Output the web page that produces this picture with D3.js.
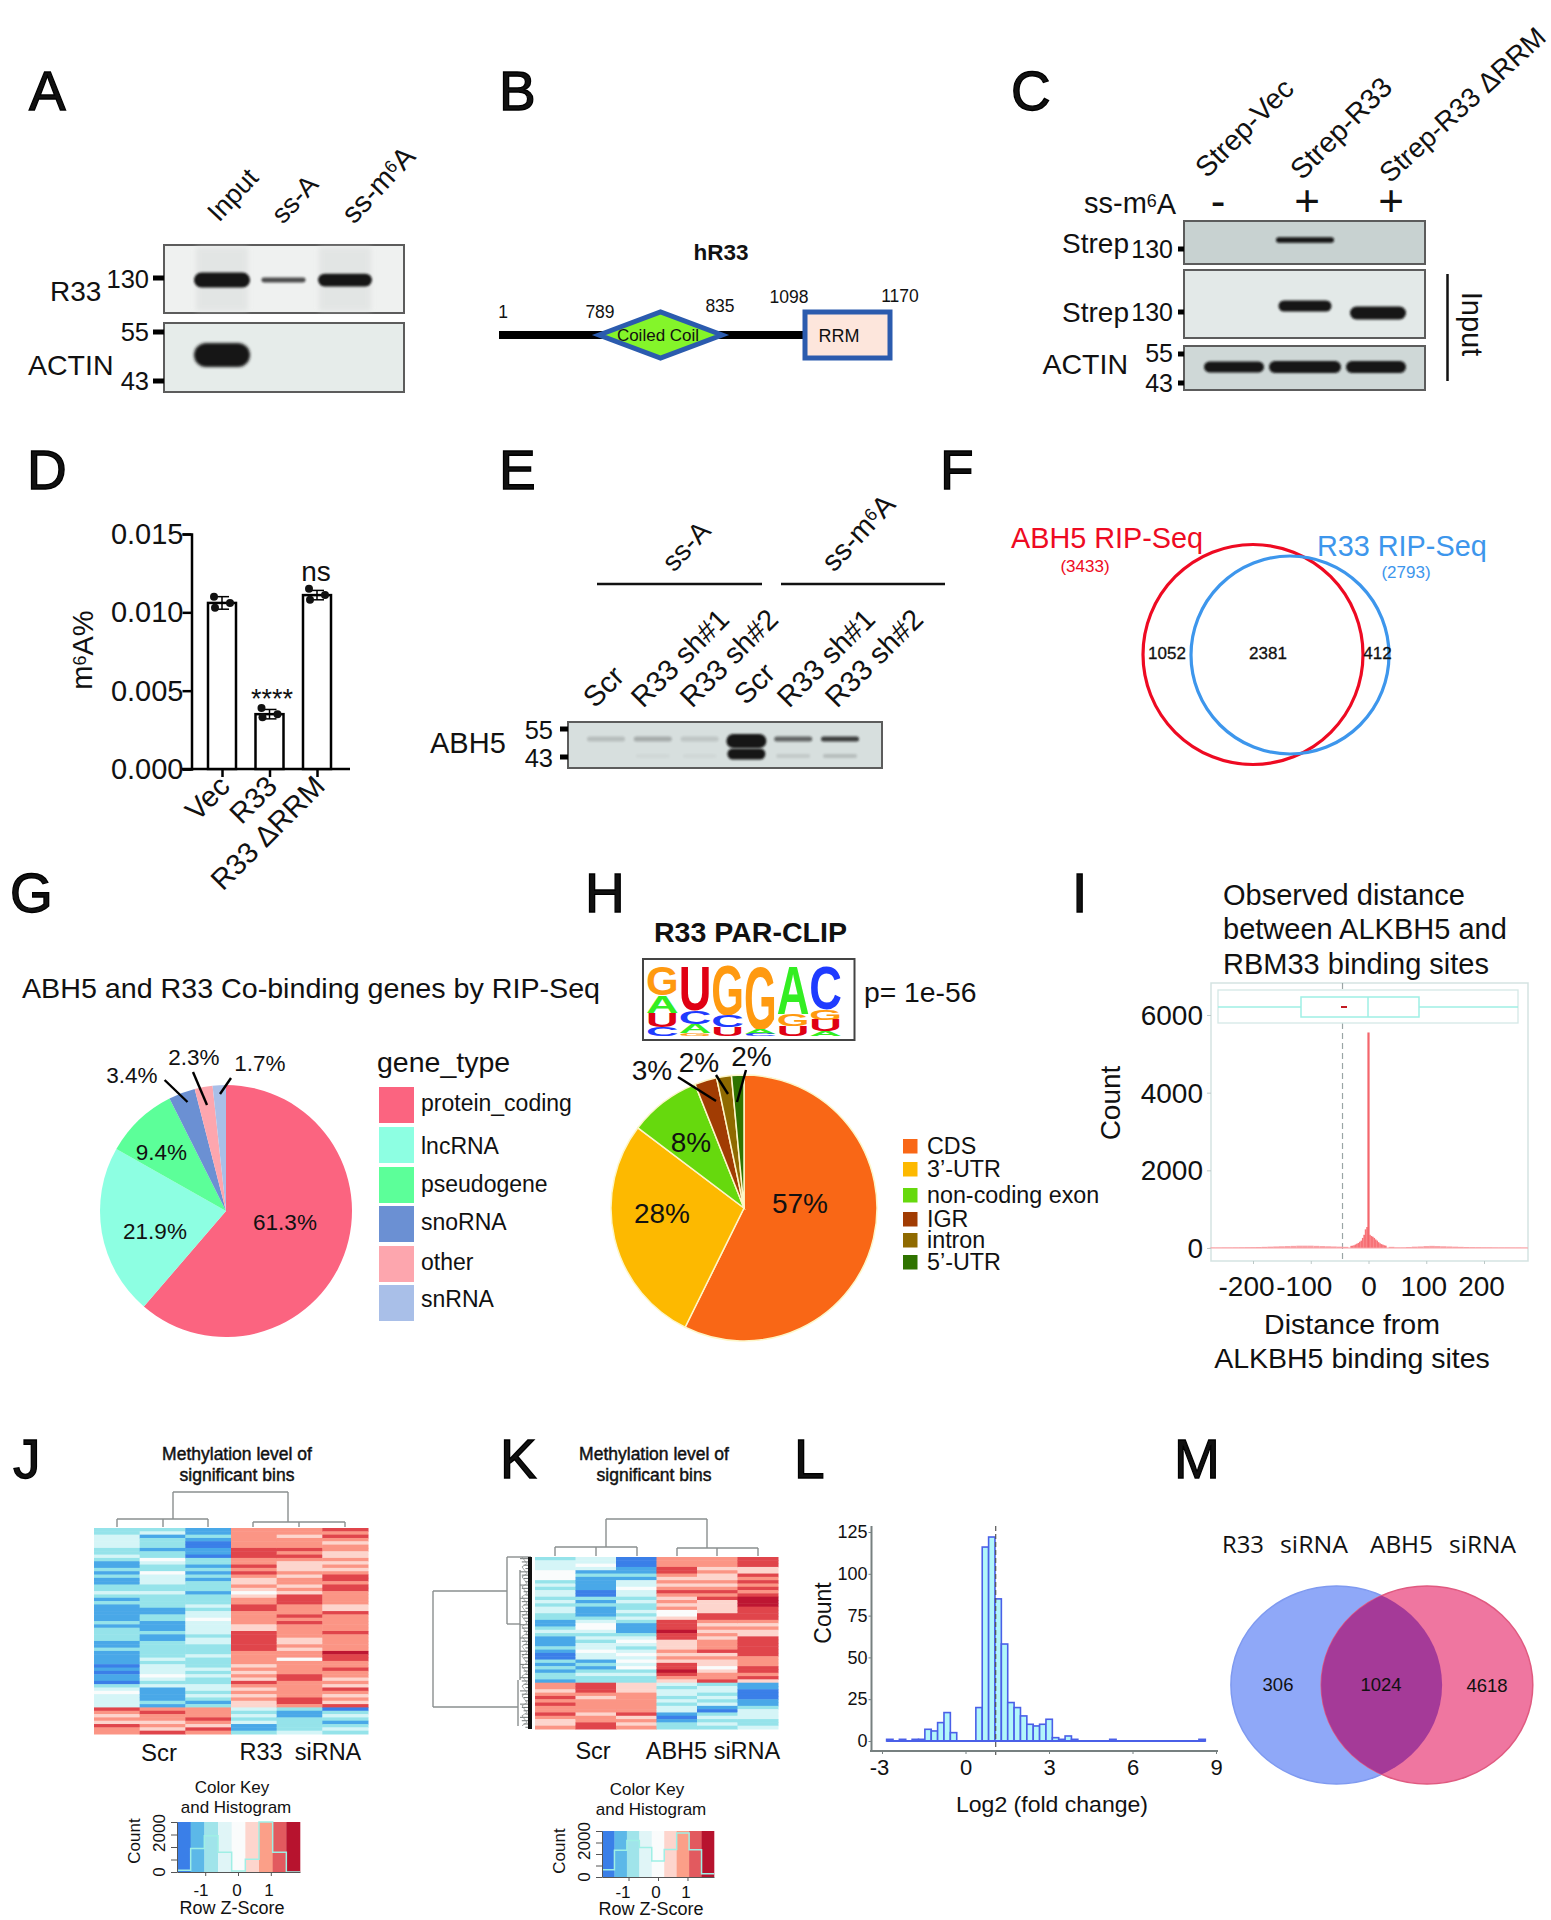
<!DOCTYPE html>
<html><head><meta charset="utf-8">
<script src="https://cdn.jsdelivr.net/npm/d3@7/dist/d3.min.js"></script>
<style>html,body{margin:0;background:#fff}svg{display:block}text{font-family:"Liberation Sans",Arial,sans-serif;fill:#111}</style>
</head><body><div id="c"></div>
<script>
// ---------- DATA ----------
const panelLetters=["A","B","C","D","E","F","G","H","I","J","K","L","M"];
const lanesA=["Input","ss-A","ss-m6A"];
const bandsAR33=[1,.22,.85], bandsAActin=[1,0,0];
const lanesC=["Strep-Vec","Strep-R33","Strep-R33 ΔRRM"];
const signC=["-","+","+"];
const bandsC1=[0,.42,0], bandsC2=[0,.85,1], bandsC3=[.9,1,1];
const domainLabels=["1","789","835","1098","1170"];
const barCats=["Vec","R33","R33 ΔRRM"];
const barVals=[0.0106,0.0035,0.0111];
const barErr=[0.0004,0.0003,0.0003];
const barPts=[[0.0110,0.0103,0.0106],[0.0039,0.0033,0.0035],[0.0115,0.0108,0.0111]];
const yTicksD=[0,0.005,0.010,0.015];
const lanesE=["Scr","R33 sh#1","R33 sh#2","Scr","R33 sh#1","R33 sh#2"];
const bandsEUpper=[.16,.25,.12,1,.6,.8], bandsELower=[0,.03,.03,1,.1,.16];
const vennF=[3433,2793], vennFCounts=[1052,2381,412];
const geneTypes=["protein_coding","lncRNA","pseudogene","snoRNA","other","snRNA"];
const genePct=[61.3,21.9,9.4,3.4,2.3,1.7];
const geneColors=["#fb6480","#8dffe2","#5cff99","#6b90d3","#fda6ae","#a9bfe8"];
const clipTypes=["CDS","3’-UTR","non-coding exon","IGR","intron","5’-UTR"];
const clipPct=[57,28,8,3,2,2];
const clipShare=[57.3,28,8.7,2.7,1.8,1.5];
const clipColors=["#f96716","#fdb900","#66d90d","#a13c03","#8f6a00","#2f7300"];
const logoLetters=[["G","A","U","C"],["U","C","A","G"],["G","C","U"],["G","A","C"],["A","G","U"],["C","G","U","A"]];
const logoHeights=[[42,25,20,13],[64,19,13,4],[71,17,12],[90,7,3],[69,17,14],[62,15,16,7]];
const distTailX=[-270,-260,-250,-240,-230,-220,-210,-200,-190,-180,-170,-160,-150,-140,-130,-120,-110,-100,-90,-80,-70,-60,-50,-40,40,50,60,70,80,90,100,110,120,130,140,150,160,170,180,190,200,210,220,230,240,250,260,270];
const distTailY=[12,12,14,14,16,18,20,22,25,30,35,40,45,50,55,60,60,60,55,50,45,40,35,30,30,15,15,25,35,40,50,55,50,45,40,35,30,25,22,20,18,18,15,14,14,12,12,10];
const distCoreX=[-30,-27.5,-25,-22.5,-20,-17.5,-15,-12.5,-10,-7.5,-5,-2.5,0,2.5,5,7.5,10,12.5,15,17.5,20,22.5,25,27.5,30];
const distCoreY=[55,60,70,90,110,130,160,190,260,340,480,540,5550,340,310,290,260,220,190,150,120,100,85,70,60];
const heatLevels=["#3a7fe8","#4aa8e8","#95e3ea","#d5f5f7","#fafcfc","#fdd5cd","#fb9585","#e0454c","#bd1830"];
const jCol1=[2,2,3,3,3,3,2,2,3,2,1,1,2,1,2,1,1,2,2,3,2,1,2,1,1,1,1,1,2,1,2,2,2,2,1,1,2,1,1,1,1,0,1,0,1,1,0,2,3,4,3,3,3,3,7,6,5,6,5,7,6,6];
const jCol2=[2,3,1,2,2,2,1,2,2,4,3,2,2,4,3,3,3,2,2,3,2,2,2,2,1,1,2,2,1,1,1,2,1,1,2,2,2,2,2,3,2,3,3,3,4,3,2,3,1,1,1,1,2,1,6,7,6,6,5,6,5,7];
const jCol3=[1,1,2,1,0,0,1,1,0,2,2,1,2,1,2,1,2,2,2,1,2,2,2,3,2,3,3,4,3,3,3,3,2,3,3,2,2,2,3,2,2,2,3,2,3,2,2,3,3,2,3,2,1,2,6,6,6,7,6,5,7,6];
const jCol4=[6,6,6,6,6,6,7,7,7,6,6,7,6,7,6,5,5,6,5,4,5,6,6,7,7,6,6,6,6,5,5,7,7,7,7,7,7,6,6,6,6,5,6,5,6,5,7,6,5,6,5,6,5,5,3,2,3,2,3,1,1,2];
const jCol5=[6,6,5,6,6,6,7,6,7,6,5,5,5,6,5,6,6,5,6,5,7,7,7,6,6,6,7,6,7,6,6,6,6,5,5,6,5,6,6,4,6,6,6,6,7,7,6,6,6,6,6,7,7,6,2,1,1,2,2,2,2,3];
const jCol6=[7,6,7,6,5,6,6,5,5,6,5,6,5,6,7,7,6,7,7,6,6,6,6,5,5,7,6,6,6,6,6,7,6,6,6,6,6,8,7,7,6,6,7,6,6,5,6,5,7,6,5,6,5,7,0,2,3,2,1,2,3,2];
const kCol1=[2,3,3,3,4,4,4,2,3,2,3,3,2,3,2,3,3,2,2,1,1,2,3,2,1,1,1,2,1,0,0,2,1,2,1,2,2,1,6,6,5,6,7,6,7,6,6,7,6,5,5,6];
const kCol2=[3,3,4,3,1,2,1,1,1,1,0,0,2,1,2,1,1,1,2,3,4,4,3,2,3,2,3,3,4,3,3,1,2,1,2,3,2,2,7,7,7,6,5,6,6,6,6,5,6,6,7,7];
const kCol3=[0,0,0,1,1,2,1,3,3,4,3,3,2,3,2,2,3,2,3,2,1,1,1,2,3,4,3,2,3,4,3,4,3,4,2,3,2,2,5,5,5,6,6,6,6,6,6,7,5,6,5,6];
const kCol4=[6,6,6,7,7,6,5,6,5,6,7,6,5,6,5,6,4,4,5,7,7,7,8,7,7,5,5,5,6,5,6,5,7,7,8,7,6,5,3,2,3,3,2,3,2,3,3,1,0,1,2,2];
const kCol5=[6,6,6,5,6,5,5,6,5,6,7,6,7,5,5,5,5,7,7,6,5,6,5,6,5,6,6,6,7,5,6,5,5,4,5,6,6,7,2,3,3,2,3,2,3,1,0,2,3,2,3,2];
const kCol6=[7,7,7,5,5,7,6,7,6,7,6,7,8,8,8,7,7,7,7,6,5,6,5,5,7,7,7,7,7,7,6,6,6,7,7,6,7,5,1,1,0,0,0,1,1,2,3,3,3,2,2,3];
const keyColors=["#3a7fe8","#5cb8e8","#a0e4ea","#e0f5f7","#fafcfc","#fdd5cd","#fb9f88","#e25a5f","#b7132e"];
const keyHistJ=[70,940,1450,790,40,510,2000,790,0];
const keyHistK=[320,1160,1590,1280,700,1200,1910,1190,140];
const foldBinStart=-2.834, foldBinWidth=0.229;
const foldCounts=[1,0,1,0,1,1,7,6,11,17,5,0,0,0,20,116,122,85,58,23,20,15,10,9,10,13,2,1,3,1,0,0,0,0,0,1,0,0,0,0,0,0,0,0,0,0,0,0,0,1];
const foldMedian=1.085;
const vennMCounts=[306,1024,4618];

// ---------- HELPERS ----------
const W=1551,H=1920;
const svg=d3.select("#c").append("svg").attr("width",W).attr("height",H).attr("viewBox",`0 0 ${W} ${H}`);
const defs=svg.append("defs");
[[.6,"b06"],[1,"b10"],[1.6,"b16"],[2.4,"b24"]].forEach(([s,id])=>defs.append("filter").attr("id",id).attr("x","-30%").attr("y","-80%").attr("width","160%").attr("height","260%").append("feGaussianBlur").attr("stdDeviation",s));
defs.append("filter").attr("id","heatSoft").attr("x","-1%").attr("y","-1%").attr("width","102%").attr("height","102%").append("feGaussianBlur").attr("stdDeviation",.55);
function T(x,y,s,o={}){
  const t=svg.append("text").text(s).attr("font-size",o.size||24).attr("text-anchor",o.anchor||"start");
  if(o.rot!==undefined) t.attr("transform",`translate(${x},${y}) rotate(${o.rot})`); else t.attr("x",x).attr("y",y);
  if(!o.raw) t.attr("dy",".36em");
  if(o.weight) t.attr("font-weight",o.weight);
  if(o.fill) t.style("fill",o.fill);
  if(o.len) t.attr("textLength",o.len).attr("lengthAdjust","spacingAndGlyphs");
  if(o.family) t.style("font-family",o.family);
  return t;
}
function m6A(t,pre,post){ t.text(null); t.append("tspan").text(pre);
  t.append("tspan").text("6").attr("dy","-.38em").attr("font-size",".62em");
  t.append("tspan").text(post).attr("dy",".24em");}
function L(x1,y1,x2,y2,c="#000",w=2,dash){const l=svg.append("line").attr("x1",x1).attr("y1",y1).attr("x2",x2).attr("y2",y2).attr("stroke",c).attr("stroke-width",w); if(dash)l.attr("stroke-dasharray",dash); return l;}
function blot(x0,y0,x1,y1,fill){svg.append("rect").attr("x",x0).attr("y",y0).attr("width",x1-x0).attr("height",y1-y0).attr("fill",fill).attr("stroke","#5c5c5c").attr("stroke-width",2);}
function band(cx,cy,w,h,op=1,f="b10"){svg.append("rect").attr("x",cx-w/2).attr("y",cy-h/2).attr("width",w).attr("height",h).attr("rx",h/2).attr("fill","#141414").attr("opacity",op).attr("filter",`url(#${f})`);}
function tickBox(x0,x1,y){svg.append("rect").attr("x",x0).attr("y",y-2.5).attr("width",x1-x0).attr("height",5).attr("fill","#000");}

// panel letters
const letterPos=[[29,90],[499,90],[1011,90],[27,469],[499,469],[940,469],[10,892],[585,892],[1072,892],[13,1458],[500,1458],[794,1458],[1174,1458]];
panelLetters.forEach((l,i)=>T(letterPos[i][0],letterPos[i][1],l,{size:55}).style("stroke","#000").style("stroke-width",1.3));

// ---------- A ----------
blot(164,245,404,313,"#eff1f0"); blot(164,323,404,392,"#e6ecea");
const xA=d3.scaleLinear().domain([0,2]).range([222,345]);
[0,2].forEach(i=>svg.append("rect").attr("x",xA(i)-26).attr("y",247).attr("width",52).attr("height",64).attr("fill","#d9dcdb").attr("opacity",.55).attr("filter","url(#b24)"));
bandsAR33.forEach((v,i)=>band(xA(i),280,56*(.73+.27*v),15*Math.max(v,.33),v<.3?.75:1,"b10"));
bandsAActin.forEach((v,i)=>{if(v>0)band(xA(i),355,56,24,1,"b16");});
[278,332,381].forEach(y=>tickBox(153,164,y));
T(149,279,"130",{size:25.5,anchor:"end"});T(149,332,"55",{size:25.5,anchor:"end"});T(149,381,"43",{size:25.5,anchor:"end"});
T(50,291,"R33",{size:28});T(28,365,"ACTIN",{size:28.5});
T(219,223,lanesA[0],{size:27,rot:-47,raw:1});T(283,225,lanesA[1],{size:27,rot:-47,raw:1});
m6A(T(354,225,"",{size:29,rot:-47,raw:1}),"ss-m","A");

// ---------- B ----------
T(721,252,"hR33",{size:22.5,anchor:"middle",weight:"bold"});
svg.append("rect").attr("x",499).attr("y",331).attr("width",306).attr("height",8).attr("fill","#000");
svg.append("path").attr("d",d3.line()([[599,335],[660.5,312],[722,335],[660.5,358]])+"Z").attr("fill","#84f52a").attr("stroke","#2b5bae").attr("stroke-width",5);
T(658,335,"Coiled Coil",{size:17,anchor:"middle"});
svg.append("rect").attr("x",805).attr("y",312).attr("width",85).attr("height",46).attr("fill","#fde6dc").attr("stroke","#2b5bae").attr("stroke-width",5);
T(839,336,"RRM",{size:18,anchor:"middle"});
[[503,312],[600,312],[720,306],[789,297],[900,296]].forEach((p,i)=>T(p[0],p[1],domainLabels[i],{size:17.5,anchor:"middle"}));

// ---------- C ----------
blot(1184,221,1425,264,"#c8d2d1"); blot(1184,270,1425,338,"#e3e9e8"); blot(1184,346,1425,390,"#cfd8d7");
const xC=d3.scaleLinear().domain([0,2]).range([1234,1376]);
bandsC1.forEach((v,i)=>{if(v)band(xC(i),240,58,13*v,1,"b10");});
bandsC2.forEach((v,i)=>{if(v)band(i==1?1305:xC(i)+2,i==1?306:313,i==1?53:56,13*v,1,"b10");});
bandsC3.forEach((v,i)=>band(xC(i),367,i==1?72:60,11*v+1,1,"b10"));
[249,312,354,383].forEach(y=>tickBox(1178,1184,y));
[[249,"130"],[312,"130"],[353,"55"],[383,"43"]].forEach(d=>T(1173,d[0],d[1],{size:25,anchor:"end"}));
T(1129,243,"Strep",{size:28,anchor:"end"});T(1129,312,"Strep",{size:28,anchor:"end"});T(1128,364,"ACTIN",{size:28.5,anchor:"end"});
m6A(T(1084,203,"",{size:29}),"ss-m","A");
[1218,1307,1391].forEach((x,i)=>T(x,200,signC[i],{size:44,anchor:"middle"}));
L(1447.5,274,1447.5,381,"#111",2.5);
T(1472,324,"Input",{size:29,anchor:"middle",rot:90}).attr("dy",".36em");
T(1207,179,lanesC[0],{size:28.5,rot:-45,raw:1});T(1302,181,lanesC[1],{size:28.5,rot:-45,raw:1});T(1390,184,lanesC[2],{size:27.5,rot:-42.5,raw:1});

// ---------- D ----------
const yD=d3.scaleLinear().domain([0,0.015]).range([769,534]);
const xD=d3.scalePoint().domain(barCats).range([222,317]);
const gy=svg.append("g").attr("transform","translate(191.5,0)").call(d3.axisLeft(yD).tickValues(yTicksD).tickFormat(d3.format(".3f")).tickSize(9).tickPadding(0));
gy.selectAll("path,line").attr("stroke","#000").attr("stroke-width",2.5);
gy.selectAll("text").attr("font-size",29).attr("x",-8).attr("dy",".33em");
const gx=svg.append("g").attr("transform","translate(0,769)").call(d3.axisBottom(xD).tickSize(8).tickPadding(4).tickSizeOuter(0));
gx.select("path").attr("d","M182,0H350").attr("stroke","#000").attr("stroke-width",2.5);
gx.selectAll("line").attr("stroke","#000").attr("stroke-width",2.5);
gx.selectAll("text").attr("font-size",29).attr("text-anchor","end").attr("x",0).attr("y",0).attr("dy",0).attr("transform","translate(9,19) rotate(-45)");
barCats.forEach((c,i)=>{
  const x=xD(c);
  svg.append("rect").attr("x",x-14).attr("y",yD(barVals[i])).attr("width",28).attr("height",yD(0)-yD(barVals[i])).attr("fill","#fff").attr("stroke","#000").attr("stroke-width",2.5);
  L(x,yD(barVals[i]+barErr[i]),x,yD(barVals[i]-barErr[i]),"#000",1.5);
  L(x-7,yD(barVals[i]+barErr[i]),x+7,yD(barVals[i]+barErr[i]),"#000",1.5);
  L(x-7,yD(barVals[i]-barErr[i]),x+7,yD(barVals[i]-barErr[i]),"#000",1.5);
  barPts[i].forEach((v,j)=>svg.append("circle").attr("cx",x+[-8,-7,8][j]).attr("cy",yD(v)).attr("r",4).attr("fill","#111"));
});
T(316,571,"ns",{size:28,anchor:"middle"});
T(272,698,"****",{size:27,anchor:"middle"});
m6A(T(82,650,"",{size:29,anchor:"middle",rot:-90}),"m","A%");

// ---------- E ----------
L(597,584,762,584,"#111",2.5);L(781,584,945,584,"#111",2.5);
T(674,573,"ss-A",{size:28,rot:-47,raw:1});
m6A(T(834,573,"",{size:29,rot:-47,raw:1}),"ss-m","A");
blot(568,722,882,768,"#d7dfde");
const xE=d3.scaleLinear().domain([0,5]).range([606,840]);
bandsEUpper.forEach((v,i)=>band(xE(i),i==3?741:739,i==3?40:38,i==3?14:5,v,"b10"));
bandsELower.forEach((v,i)=>{if(v)band(xE(i),i==3?754:756,i==3?38:34,i==3?11:4,v,"b10");});
[729,757].forEach(y=>tickBox(560,568,y));
T(553,730,"55",{size:25.5,anchor:"end"});T(553,758,"43",{size:25.5,anchor:"end"});T(430,743,"ABH5",{size:29});
[[595,709],[643,709],[692,709],[746,706],[789,709],[837,709]].forEach((p,i)=>T(p[0],p[1],lanesE[i],{size:29,rot:-45,raw:1}));

// ---------- F ----------
svg.append("circle").attr("cx",1253).attr("cy",654.5).attr("r",110).attr("fill","none").attr("stroke","#ee0a22").attr("stroke-width",3.2);
svg.append("circle").attr("cx",1290).attr("cy",655).attr("r",99).attr("fill","none").attr("stroke","#3d96ec").attr("stroke-width",3.2);
T(1011,538,"ABH5 RIP-Seq",{size:28.8,fill:"#ee0a22"});
T(1085,566,`(${vennF[0]})`,{size:17,anchor:"middle",fill:"#ee0a22"});
T(1317,546,"R33 RIP-Seq",{size:28.8,fill:"#3d96ec"});
T(1406,572,`(${vennF[1]})`,{size:17,anchor:"middle",fill:"#3d96ec"});
[1167,1268,1377.5].forEach((x,i)=>T(x,653,vennFCounts[i],{size:17,anchor:"middle"}).style("stroke","#111").style("stroke-width",.3));

// ---------- G ----------
T(22,988,"ABH5 and R33 Co-binding genes by RIP-Seq",{size:27.5,len:578});
const arcG=d3.arc().innerRadius(0).outerRadius(126);
const gG=svg.append("g").attr("transform","translate(226,1211)");
gG.selectAll("path").data(d3.pie().sort(null)(genePct)).join("path").attr("d",arcG).attr("fill",(d,i)=>geneColors[i]);
[[285,1222],[155,1231],[161.5,1152],[132,1075],[194,1057],[260,1063]].forEach((p,i)=>T(p[0],p[1],genePct[i]+"%",{size:22.5,anchor:"middle"}));
[[164.6,1080,187.5,1102],[193,1072,207,1105],[231,1078,220,1094]].forEach(l=>L(l[0],l[1],l[2],l[3],"#000",2.4));
T(377,1062,"gene_type",{size:28.5});
const yG=[1087,1127,1167,1206,1246,1285], yGt=[1103,1146,1184,1222,1262,1299];
geneTypes.forEach((g,i)=>{
  svg.append("rect").attr("x",379).attr("y",yG[i]).attr("width",35).attr("height",36).attr("fill",geneColors[i]);
  T(421,yGt[i],g,{size:23});
});

// ---------- H ----------
T(654,932,"R33 PAR-CLIP",{size:28,weight:"bold",len:193});
svg.append("rect").attr("x",643).attr("y",959).attr("width",211.5).attr("height",81).attr("fill","#fff").attr("stroke","#444").attr("stroke-width",2);
const xLogo=d3.scaleBand().domain(d3.range(6)).range([646,842]);
const yLogo=d3.scaleLinear().domain([0,100]).range([965,1036]);
const logoCol={G:"#ff9a10",A:"#33ee22",U:"#e00014",C:"#1f3bff"};
logoLetters.forEach((col,i)=>{let c=0;col.forEach((ch,j)=>{
  const h=logoHeights[i][j]; const y0=yLogo(c), y1=yLogo(c+h); c+=h;
  const t=svg.append("text").text(ch).attr("font-size",100).attr("font-weight","bold").style("fill",logoCol[ch]);
  const wd=t.node().getComputedTextLength();
  t.attr("transform",`translate(${xLogo(i)},${y1}) scale(${xLogo.bandwidth()/wd},${(y1-y0)/72})`);
});});
T(864,992,"p= 1e-56",{size:28.3});
const arcH=d3.arc().innerRadius(0).outerRadius(133);
const gH=svg.append("g").attr("transform","translate(744,1208)");
gH.selectAll("path").data(d3.pie().sort(null)(clipShare)).join("path").attr("d",arcH).attr("fill",(d,i)=>clipColors[i]).attr("stroke","#fdf6c8").attr("stroke-width",1.5);
[[800,1203],[662,1213],[691,1142],[652,1070],[699,1062],[751.5,1056]].forEach((p,i)=>T(p[0],p[1],clipPct[i]+"%",{size:28,anchor:"middle"}));
[[678,1077,716,1101],[716,1075,728,1094],[746,1070,737,1102]].forEach(l=>L(l[0],l[1],l[2],l[3],"#000",2.4));
const yHl=[1146,1169,1195,1219,1240,1262];
clipTypes.forEach((g,i)=>{
  svg.append("rect").attr("x",903).attr("y",yHl[i]-7).attr("width",14.5).attr("height",14.5).attr("fill",clipColors[i]);
  T(927,yHl[i],g,{size:23.3});
});

// ---------- I ----------
["Observed distance","between ALKBH5 and","RBM33 binding sites"].forEach((s,i)=>T(1223,[895,929,964][i],s,{size:29}));
svg.append("rect").attr("x",1211).attr("y",983).attr("width",317).attr("height",278).attr("fill","#fff").attr("stroke","#d5e3e2").attr("stroke-width",1.5);
const xI=d3.scaleLinear().domain([-200,200]).range([1253,1484]);
const yI=d3.scaleLinear().domain([0,6000]).range([1248,1015]);
L(xI(-45),983,xI(-45),1261,"#9aa5a5",1.2,"6,4");
svg.append("rect").attr("x",1218).attr("y",990).attr("width",300).attr("height",33).attr("fill","#fff").attr("stroke","#d5e8e6").attr("stroke-width",1.3);
L(1218,1007,1301,1007,"#9fefe5",1.5);L(1419,1007,1518,1007,"#9fefe5",1.5);
svg.append("rect").attr("x",1301).attr("y",997).attr("width",118).attr("height",20).attr("fill","#fff").attr("stroke","#9fefe5").attr("stroke-width",1.5);
L(1368,997,1368,1017,"#9fefe5",1.5);
L(1341,1007,1347,1007,"#c21a22",2);
const bw10=xI(10)-xI(0), bw25=xI(2.5)-xI(0);
distTailX.forEach((v,i)=>svg.append("rect").attr("x",xI(v)-bw10/2).attr("y",yI(distTailY[i])).attr("width",bw10).attr("height",yI(0)-yI(distTailY[i])).attr("fill","#f9a2a6"));
distCoreX.forEach((v,i)=>{const bw=distCoreY[i]>1000?2.2:bw25+.2;svg.append("rect").attr("x",xI(v)-bw/2).attr("y",yI(distCoreY[i])).attr("width",bw).attr("height",yI(0)-yI(distCoreY[i])).attr("fill",distCoreY[i]>1000?"#f4666c":"#f77479");});
L(1211,yI(0),1528,yI(0),"#f9a2a6",1);
const gyI=svg.append("g").attr("transform","translate(1211,0)").call(d3.axisLeft(yI).tickValues([0,2000,4000,6000]).tickFormat(d3.format("d")).tickSize(4).tickPadding(4));
gyI.select("path").remove();gyI.selectAll("line").attr("stroke","#bcc8c7");
gyI.selectAll("text").attr("font-size",28).attr("dy",".34em");
const gxI=svg.append("g").attr("transform","translate(0,1261)").call(d3.axisBottom(xI).tickValues([-200,-100,0,100,200]).tickFormat(d=>d3.format("d")(d).replace("−","-")).tickSize(3).tickPadding(6));
gxI.select("path").remove();gxI.selectAll("line").attr("stroke","#bcc8c7");
gxI.selectAll("text").attr("font-size",28).attr("y",0).attr("dy","1.25em").attr("dx",d=>d<0?-7:(d>0?-3:0));
T(1110,1103,"Count",{size:28,anchor:"middle",rot:-90});
T(1352,1324,"Distance from",{size:28.5,anchor:"middle"});T(1352,1358,"ALKBH5 binding sites",{size:28.5,anchor:"middle"});

// ---------- J / K heat maps ----------
function heat(cols,x0,x1,y0,y1){
  const xs=d3.scaleBand().domain(d3.range(cols.length)).range([x0,x1]);
  const ys=d3.scaleBand().domain(d3.range(cols[0].length)).range([y0,y1]);
  const g=svg.append("g").attr("filter","url(#heatSoft)");
  cols.forEach((c,i)=>g.selectAll(null).data(c).join("rect").attr("x",xs(i)).attr("y",(d,r)=>ys(r)).attr("width",xs.bandwidth()+.5).attr("height",ys.bandwidth()+.5).attr("fill",d=>heatLevels[d]));
  return ys;
}
function key(x0,x1,y0,y1,dom,hist,lab){
  const xk=d3.scaleLinear().domain(dom).range([x0,x1]);
  const yk=d3.scaleLinear().domain([0,2000]).range([y1,y0]);
  const bw=(dom[1]-dom[0])/9;
  keyColors.forEach((c,i)=>svg.append("rect").attr("x",xk(dom[0]+i*bw)).attr("y",y0).attr("width",xk(dom[0]+bw)-xk(dom[0])+.3).attr("height",y1-y0).attr("fill",c));
  const pts=hist.flatMap((v,i)=>[[xk(dom[0]+i*bw),yk(v)],[xk(dom[0]+(i+1)*bw),yk(v)]]);
  svg.append("path").attr("d",d3.line()(pts)).attr("fill","none").attr("stroke","#9fefe5").attr("stroke-width",1.5);
  const ax=svg.append("g").attr("transform",`translate(0,${y1})`).call(d3.axisBottom(xk).tickValues([-1,0,1]).tickFormat("").tickSize(4).tickSizeOuter(0));
  ax.selectAll("path,line").attr("stroke","#555");
  const ay=svg.append("g").attr("transform",`translate(${x0},0)`).call(d3.axisLeft(yk).tickValues([0,500,1000,1500,2000]).tickFormat("").tickSize(6).tickSizeOuter(0));
  ay.selectAll("path,line").attr("stroke","#555");
  lab.tickX.forEach((x,i)=>T(x,lab.tickY,["-1","0","1"][i],{size:17,anchor:"middle"}));
  T(lab.zx,lab.zy,"Row Z-Score",{size:18,anchor:"middle"});
  T(lab.ckx,lab.cky,"Color Key",{size:17,anchor:"middle"});
  T(lab.hx,lab.cky+20,"and Histogram",{size:17,anchor:"middle"});
  T(lab.cx,lab.cy,"Count",{size:17,anchor:"middle",rot:-90});
  T(lab.nx,lab.ny2,"2000",{size:17,anchor:"middle",rot:-90});
  T(lab.nx,y1,"0",{size:17,anchor:"middle",rot:-90});
}
function segs(list,c="#8a8f8f",w=1.4){list.forEach(s=>L(s[0],s[1],s[2],s[3],c,w));}
["Methylation level of","significant bins"].forEach((s,i)=>{T(237,[1454,1475][i],s,{size:17.5,anchor:"middle"}).style("stroke","#111").style("stroke-width",.45);
  T(654,[1454,1475][i],s,{size:17.5,anchor:"middle"}).style("stroke","#111").style("stroke-width",.45);});
heat([jCol1,jCol2,jCol3,jCol4,jCol5,jCol6],94,368,1528,1734);
segs([[173,1492,288,1492],[173,1492,173,1519],[288,1492,288,1522],[117,1519,208,1519],[117,1519,117,1527],[163,1519,163,1527],[208,1519,208,1527],[253,1522,345,1522],[253,1522,253,1527],[299,1522,299,1527],[345,1522,345,1527]]);
T(159,1752,"Scr",{size:24,anchor:"middle"});T(261,1752,"R33",{size:23.5,anchor:"middle"});T(328,1752,"siRNA",{size:23.5,anchor:"middle"});
key(177,300,1822,1872,[-1.86,1.89],keyHistJ,{tickX:[201,237,269],tickY:1890,zx:232,zy:1908,ckx:232,cky:1787,hx:236,cx:134,cy:1841,nx:159,ny2:1833});

const rowsK=heat([kCol1,kCol2,kCol3,kCol4,kCol5,kCol6],535,778,1557,1729);
segs([[606,1519,707,1519],[606,1519,606,1547],[707,1519,707,1548],[555,1547,637,1547],[555,1547,555,1556],[596,1547,596,1556],[637,1547,637,1556],[677,1548,758,1548],[677,1548,677,1556],[717,1548,717,1556],[758,1548,758,1556]]);
segs([[433,1591,433,1707],[433,1591,507,1591],[433,1707,518,1707],[507,1557,507,1624],[507,1557,531,1557],[507,1624,520,1624],[520,1570,520,1680],[518,1680,518,1726]]);
kCol1.forEach((d,r)=>L(520+(r%4)*1.8,rowsK(r)+1.6,529,rowsK(r)+1.6,"#7d8282",1.1));
svg.append("path").attr("d",d3.line()(kCol1.map((d,r)=>[522+(r%3)*2.5,rowsK(r)]))).attr("fill","none").attr("stroke","#8a8f8f").attr("stroke-width",.8);
svg.append("rect").attr("x",528).attr("y",1557).attr("width",4).attr("height",172).attr("fill","#111");
T(593,1751,"Scr",{size:23.5,anchor:"middle"});T(713,1751,"ABH5 siRNA",{size:23.5,anchor:"middle"});
key(602,714,1831,1877,[-1.9,1.9],keyHistK,{tickX:[623,656,686],tickY:1892,zx:651,zy:1909,ckx:647,cky:1789,hx:651,cx:559,cy:1851,nx:584,ny2:1841});

// ---------- L ----------
const xL=d3.scaleLinear().domain([-3,9]).range([882,1216]);
const yL=d3.scaleLinear().domain([0,125]).range([1741,1532]);
foldCounts.forEach((v,i)=>{ if(!v) return;
  const a=foldBinStart+i*foldBinWidth;
  svg.append("rect").attr("x",xL(a)).attr("y",yL(v)).attr("width",xL(a+foldBinWidth)-xL(a)).attr("height",yL(0)-yL(v)).attr("fill","#b2f6fa").attr("stroke","#4a5fe8").attr("stroke-width",1.6);
});
L(xL(foldBinStart),yL(0),xL(foldBinStart+50*foldBinWidth),yL(0),"#4a5fe8",2);
L(xL(foldMedian),1526,xL(foldMedian),1755,"#555",1.2,"5,3");
L(871.5,1526,871.5,1751,"#778080",2);L(870,1751,1218,1751,"#778080",2);
const gyL=svg.append("g").attr("transform","translate(871.5,0)").call(d3.axisLeft(yL).tickValues([0,25,50,75,100,125]).tickSize(3).tickPadding(1));
gyL.select("path").remove();gyL.selectAll("line").attr("stroke","#778080");gyL.selectAll("text").attr("font-size",18);
const gxL=svg.append("g").attr("transform","translate(0,1751)").call(d3.axisBottom(xL).tickValues([-3,0,3,6,9]).tickFormat(d=>String(d)).tickSize(3).tickPadding(6));
gxL.select("path").remove();gxL.selectAll("line").attr("stroke","#778080");gxL.selectAll("text").attr("font-size",22).attr("y",0).attr("dy","1.1em").attr("dx",d=>d<0?-3:0);
T(822.5,1613,"Count",{size:23,anchor:"middle",rot:-90});
T(1052,1804,"Log2 (fold change)",{size:22,anchor:"middle",len:192});

// ---------- M ----------
const F2={family:'"Open Sans",sans-serif',size:24};
T(1222,1544,"R33",{...F2,len:42});T(1280,1544,"siRNA",{...F2,len:68});T(1370,1544,"ABH5",{...F2,len:63});T(1449,1544,"siRNA",{...F2,len:67});
const eB=[1336.5,1685,105.6,99], eP=[1427,1685,105.8,99];
defs.append("clipPath").attr("id","clipB").append("ellipse").attr("cx",eB[0]).attr("cy",eB[1]).attr("rx",eB[2]).attr("ry",eB[3]);
const ell=(e)=>svg.append("ellipse").attr("cx",e[0]).attr("cy",e[1]).attr("rx",e[2]).attr("ry",e[3]);
ell(eB).attr("fill","#8fa8f8").attr("stroke","#7f9af0").attr("stroke-width",1.5);
ell(eP).attr("fill","#ef76a0").attr("stroke","#e05a80").attr("stroke-width",1.5);
ell(eP).attr("fill","#a53a98").attr("clip-path","url(#clipB)");
[[1278,1684],[1381,1684],[1487,1685]].forEach((p,i)=>T(p[0],p[1],vennMCounts[i],{size:18.5,anchor:"middle"}));
</script>
</body></html>
